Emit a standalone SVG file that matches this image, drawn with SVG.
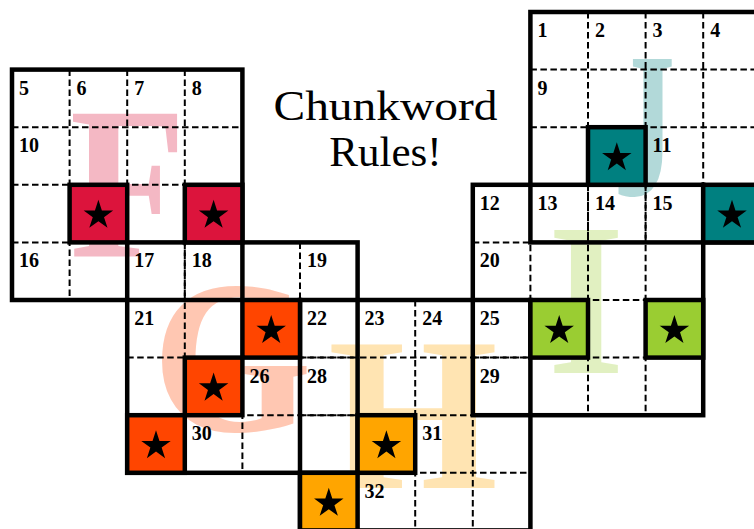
<svg xmlns="http://www.w3.org/2000/svg" xmlns:xlink="http://www.w3.org/1999/xlink" width="754" height="529" viewBox="0 0 754 529">
  <style>
    .dash { stroke: #000; stroke-width: 2; stroke-dasharray: 6.5 3.5; fill: none; }
    .block { stroke: #000; stroke-width: 4.5; fill: none; stroke-linejoin: miter; }
    .shade { stroke: #000; stroke-width: 4.5; stroke-linejoin: miter; }
    .num { font-family: "Liberation Serif", "Times New Roman", serif; font-weight: bold; font-size: 20px; fill: #000; }
    .big { font-family: "Liberation Serif", "Times New Roman", serif; font-weight: bold; font-size: 219px; text-anchor: middle; fill-opacity: 0.3; }
    .title { font-family: "Liberation Serif", "Times New Roman", serif; font-size: 43px; text-anchor: middle; fill: #000; }
    .fF { fill: #DC143C; }
    .fG { fill: #FF4500; }
    .fH { fill: #FFA500; }
    .fI { fill: #9ACD32; }
    .fJ { fill: #008080; }
  </style>
  <defs>
    <path id="star" d="M0,-15.5 L3.48,-4.79 L14.74,-4.79 L5.63,1.83 L9.11,12.54 L0,5.92 L-9.11,12.54 L-5.63,1.83 L-14.74,-4.79 L-3.48,-4.79 Z" fill="#000"/>
  </defs>
  <rect x="0" y="0" width="754" height="529" fill="#fff"/>

  <!-- background letters -->
  <g id="letters">
    <text class="big fF" transform="translate(128,257) scale(0.87,1)">F</text>
    <text class="big fG" transform="translate(232,431) scale(0.94,1)">G</text>
    <text class="big fH" transform="translate(413,488)">H</text>
    <text class="big fI" transform="translate(586,373) scale(0.9,1)">I</text>
    <text class="big fJ" style="font-size:207px" transform="translate(644,195) scale(0.6,1)">J</text>
  </g>

  <!-- title -->
  <g id="title">
    <text class="title" x="385.5" y="120" textLength="224" lengthAdjust="spacingAndGlyphs">Chunkword</text>
    <text class="title" x="385.5" y="166">Rules!</text>
  </g>

  <!-- connectors: grid lines -->
  <g id="connectors">
    <g id="dashed">
      <path class="dash" d="M69.6,69.6V300 M127.2,69.6V300 M184.8,69.6V300 M12,127.2H242.4 M12,184.8H242.4 M12,242.4H242.4"/>
      <path class="dash" d="M184.8,242.4V472.8 M242.4,242.4V472.8 M300,242.4V472.8 M127.2,300H357.6 M127.2,357.6H357.6 M127.2,415.2H357.6"/>
      <path class="dash" d="M357.6,300V530.4 M415.2,300V530.4 M472.8,300V530.4 M300,357.6H530.4 M300,415.2H530.4 M300,472.8H530.4"/>
      <path class="dash" d="M530.4,184.8V415.2 M588,184.8V415.2 M645.6,184.8V415.2 M472.8,242.4H703.2 M472.8,300H703.2 M472.8,357.6H703.2"/>
      <path class="dash" d="M588,12V242.4 M645.6,12V242.4 M703.2,12V242.4 M530.4,69.6H760.8 M530.4,127.2H760.8 M530.4,184.8H760.8"/>
    </g>
    <g id="outlines">
      <rect class="block" x="12" y="69.6" width="230.4" height="230.4"/>
      <rect class="block" x="127.2" y="242.4" width="230.4" height="230.4"/>
      <rect class="block" x="300" y="300" width="230.4" height="230.4"/>
      <rect class="block" x="472.8" y="184.8" width="230.4" height="230.4"/>
      <rect class="block" x="530.4" y="12" width="230.4" height="230.4"/>
    </g>
  </g>

  <!-- shaded cells -->
  <g id="node-F1"><rect class="shade fF" x="69.6" y="184.8" width="57.6" height="57.6"/><use xlink:href="#star" x="98.4" y="215.3"/></g>
  <g id="node-F2"><rect class="shade fF" x="184.8" y="184.8" width="57.6" height="57.6"/><use xlink:href="#star" x="213.6" y="215.3"/></g>
  <g id="node-G1"><rect class="shade fG" x="242.4" y="300" width="57.6" height="57.6"/><use xlink:href="#star" x="271.2" y="330.5"/></g>
  <g id="node-G2"><rect class="shade fG" x="184.8" y="357.6" width="57.6" height="57.6"/><use xlink:href="#star" x="213.6" y="388.1"/></g>
  <g id="node-G3"><rect class="shade fG" x="127.2" y="415.2" width="57.6" height="57.6"/><use xlink:href="#star" x="156" y="445.7"/></g>
  <g id="node-H1"><rect class="shade fH" x="357.6" y="415.2" width="57.6" height="57.6"/><use xlink:href="#star" x="386.4" y="445.7"/></g>
  <g id="node-H2"><rect class="shade fH" x="300" y="472.8" width="57.6" height="57.6"/><use xlink:href="#star" x="328.8" y="503.3"/></g>
  <g id="node-I1"><rect class="shade fI" x="530.4" y="300" width="57.6" height="57.6"/><use xlink:href="#star" x="559.2" y="330.5"/></g>
  <g id="node-I2"><rect class="shade fI" x="645.6" y="300" width="57.6" height="57.6"/><use xlink:href="#star" x="674.4" y="330.5"/></g>
  <g id="node-J1"><rect class="shade fJ" x="588" y="127.2" width="57.6" height="57.6"/><use xlink:href="#star" x="616.8" y="157.7"/></g>
  <g id="node-J2"><rect class="shade fJ" x="703.2" y="184.8" width="57.6" height="57.6"/><use xlink:href="#star" x="732" y="215.3"/></g>

  <!-- clue numbers -->
  <g id="numbers" class="num">
    <text x="537.4" y="37">1</text>
    <text x="595" y="37">2</text>
    <text x="652.6" y="37">3</text>
    <text x="710.2" y="37">4</text>
    <text x="19" y="94.6">5</text>
    <text x="76.6" y="94.6">6</text>
    <text x="134.2" y="94.6">7</text>
    <text x="191.8" y="94.6">8</text>
    <text x="537.4" y="94.6">9</text>
    <text x="19" y="152.2">10</text>
    <text x="652.6" y="152.2">11</text>
    <text x="479.8" y="209.8">12</text>
    <text x="537.4" y="209.8">13</text>
    <text x="595" y="209.8">14</text>
    <text x="652.6" y="209.8">15</text>
    <text x="19" y="267.4">16</text>
    <text x="134.2" y="267.4">17</text>
    <text x="191.8" y="267.4">18</text>
    <text x="307" y="267.4">19</text>
    <text x="479.8" y="267.4">20</text>
    <text x="134.2" y="325">21</text>
    <text x="307" y="325">22</text>
    <text x="364.6" y="325">23</text>
    <text x="422.2" y="325">24</text>
    <text x="479.8" y="325">25</text>
    <text x="249.4" y="382.6">26</text>
    <text x="307" y="382.6">28</text>
    <text x="479.8" y="382.6">29</text>
    <text x="191.8" y="440.2">30</text>
    <text x="422.2" y="440.2">31</text>
    <text x="364.6" y="497.8">32</text>
  </g>
</svg>
